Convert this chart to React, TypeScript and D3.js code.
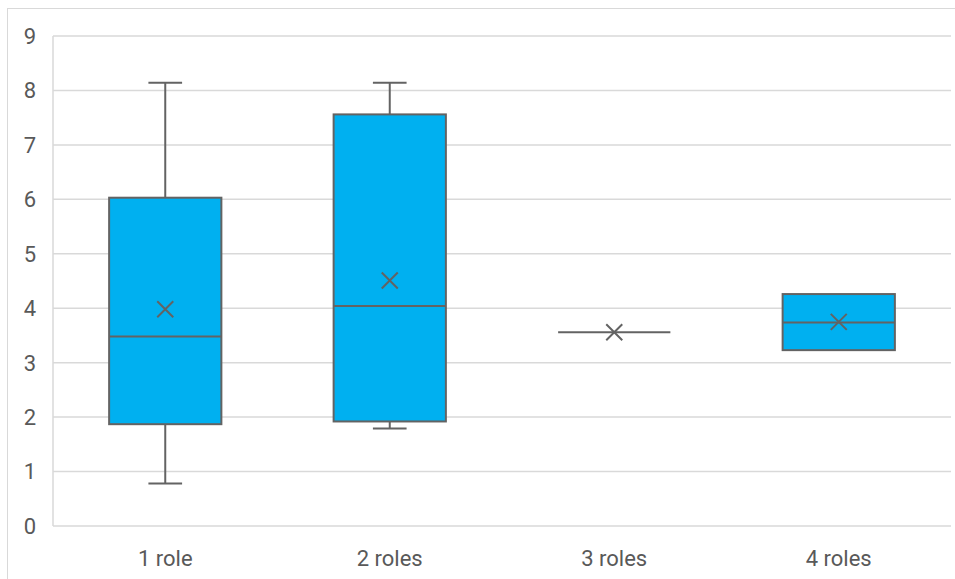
import React from "react";
import * as d3 from "d3";

const categories = ["1 role", "2 roles", "3 roles", "4 roles"];
const minValues = [0.78, 1.79, 3.56, 3.23];
const q1Values = [1.87, 1.92, 3.56, 3.23];
const medianValues = [3.48, 4.04, 3.56, 3.74];
const q3Values = [6.03, 7.56, 3.56, 4.26];
const maxValues = [8.14, 8.14, 3.56, 4.26];
const meanValues = [3.98, 4.51, 3.56, 3.75];
const yTicks = [0, 1, 2, 3, 4, 5, 6, 7, 8, 9];

const W = 955;
const H = 579;
const plot = { left: 53, right: 951, top: 36, bottom: 526 };
const font = "Roboto, 'Liberation Sans', sans-serif";
const stroke = "#636363";

export default function App() {
  const x = d3
    .scaleBand<string>()
    .domain(categories)
    .range([plot.left, plot.right])
    .paddingInner(0)
    .paddingOuter(0);
  const y = d3.scaleLinear().domain([0, 9]).range([plot.bottom, plot.top]);
  const boxW = x.bandwidth() * 0.5;
  const capW = boxW * 0.3;
  const xs = 8;

  return (
    <svg
      width={W}
      height={H}
      style={{ position: "absolute", left: 0, top: 0, background: "#fff" }}
    >
      <rect x={7.5} y={8.5} width={W + 20} height={H + 20} fill="#fff" stroke="#d9d9d9" />
      {yTicks.map((t) => (
        <g key={t}>
          <line
            x1={plot.left}
            x2={plot.right}
            y1={y(t)}
            y2={y(t)}
            stroke="#d9d9d9"
            strokeWidth={1.5}
          />
          <text
            x={36}
            y={y(t)}
            dy="0.36em"
            textAnchor="end"
            fontFamily={font}
            fontSize={22}
            fill="#595959"
          >
            {t}
          </text>
        </g>
      ))}
      <line x1={plot.left} x2={plot.left} y1={plot.top} y2={plot.bottom} stroke="#d9d9d9" strokeWidth={1.5} />
      {categories.map((c, i) => {
        const cx = (x(c) ?? 0) + x.bandwidth() / 2;
        const x0 = cx - boxW / 2;
        const my = y(meanValues[i]);
        return (
          <g key={c}>
            <line x1={cx} x2={cx} y1={y(maxValues[i])} y2={y(q3Values[i])} stroke={stroke} strokeWidth={2} />
            <line x1={cx} x2={cx} y1={y(q1Values[i])} y2={y(minValues[i])} stroke={stroke} strokeWidth={2} />
            {maxValues[i] > q3Values[i] && (
              <line x1={cx - capW / 2} x2={cx + capW / 2} y1={y(maxValues[i])} y2={y(maxValues[i])} stroke={stroke} strokeWidth={2} />
            )}
            {minValues[i] < q1Values[i] && (
              <line x1={cx - capW / 2} x2={cx + capW / 2} y1={y(minValues[i])} y2={y(minValues[i])} stroke={stroke} strokeWidth={2} />
            )}
            {q3Values[i] > q1Values[i] && (
              <rect
                x={x0}
                y={y(q3Values[i])}
                width={boxW}
                height={y(q1Values[i]) - y(q3Values[i])}
                fill="#00B0F0"
                stroke={stroke}
                strokeWidth={2}
              />
            )}
            <line x1={x0} x2={x0 + boxW} y1={y(medianValues[i])} y2={y(medianValues[i])} stroke={stroke} strokeWidth={2} />
            <path
              d={`M${cx - xs},${my - xs}L${cx + xs},${my + xs}M${cx - xs},${my + xs}L${cx + xs},${my - xs}`}
              stroke={stroke}
              strokeWidth={2}
              fill="none"
            />
            <text
              x={cx}
              y={566}
              textAnchor="middle"
              fontFamily={font}
              fontSize={22}
              fill="#595959"
            >
              {c}
            </text>
          </g>
        );
      })}
    </svg>
  );
}
